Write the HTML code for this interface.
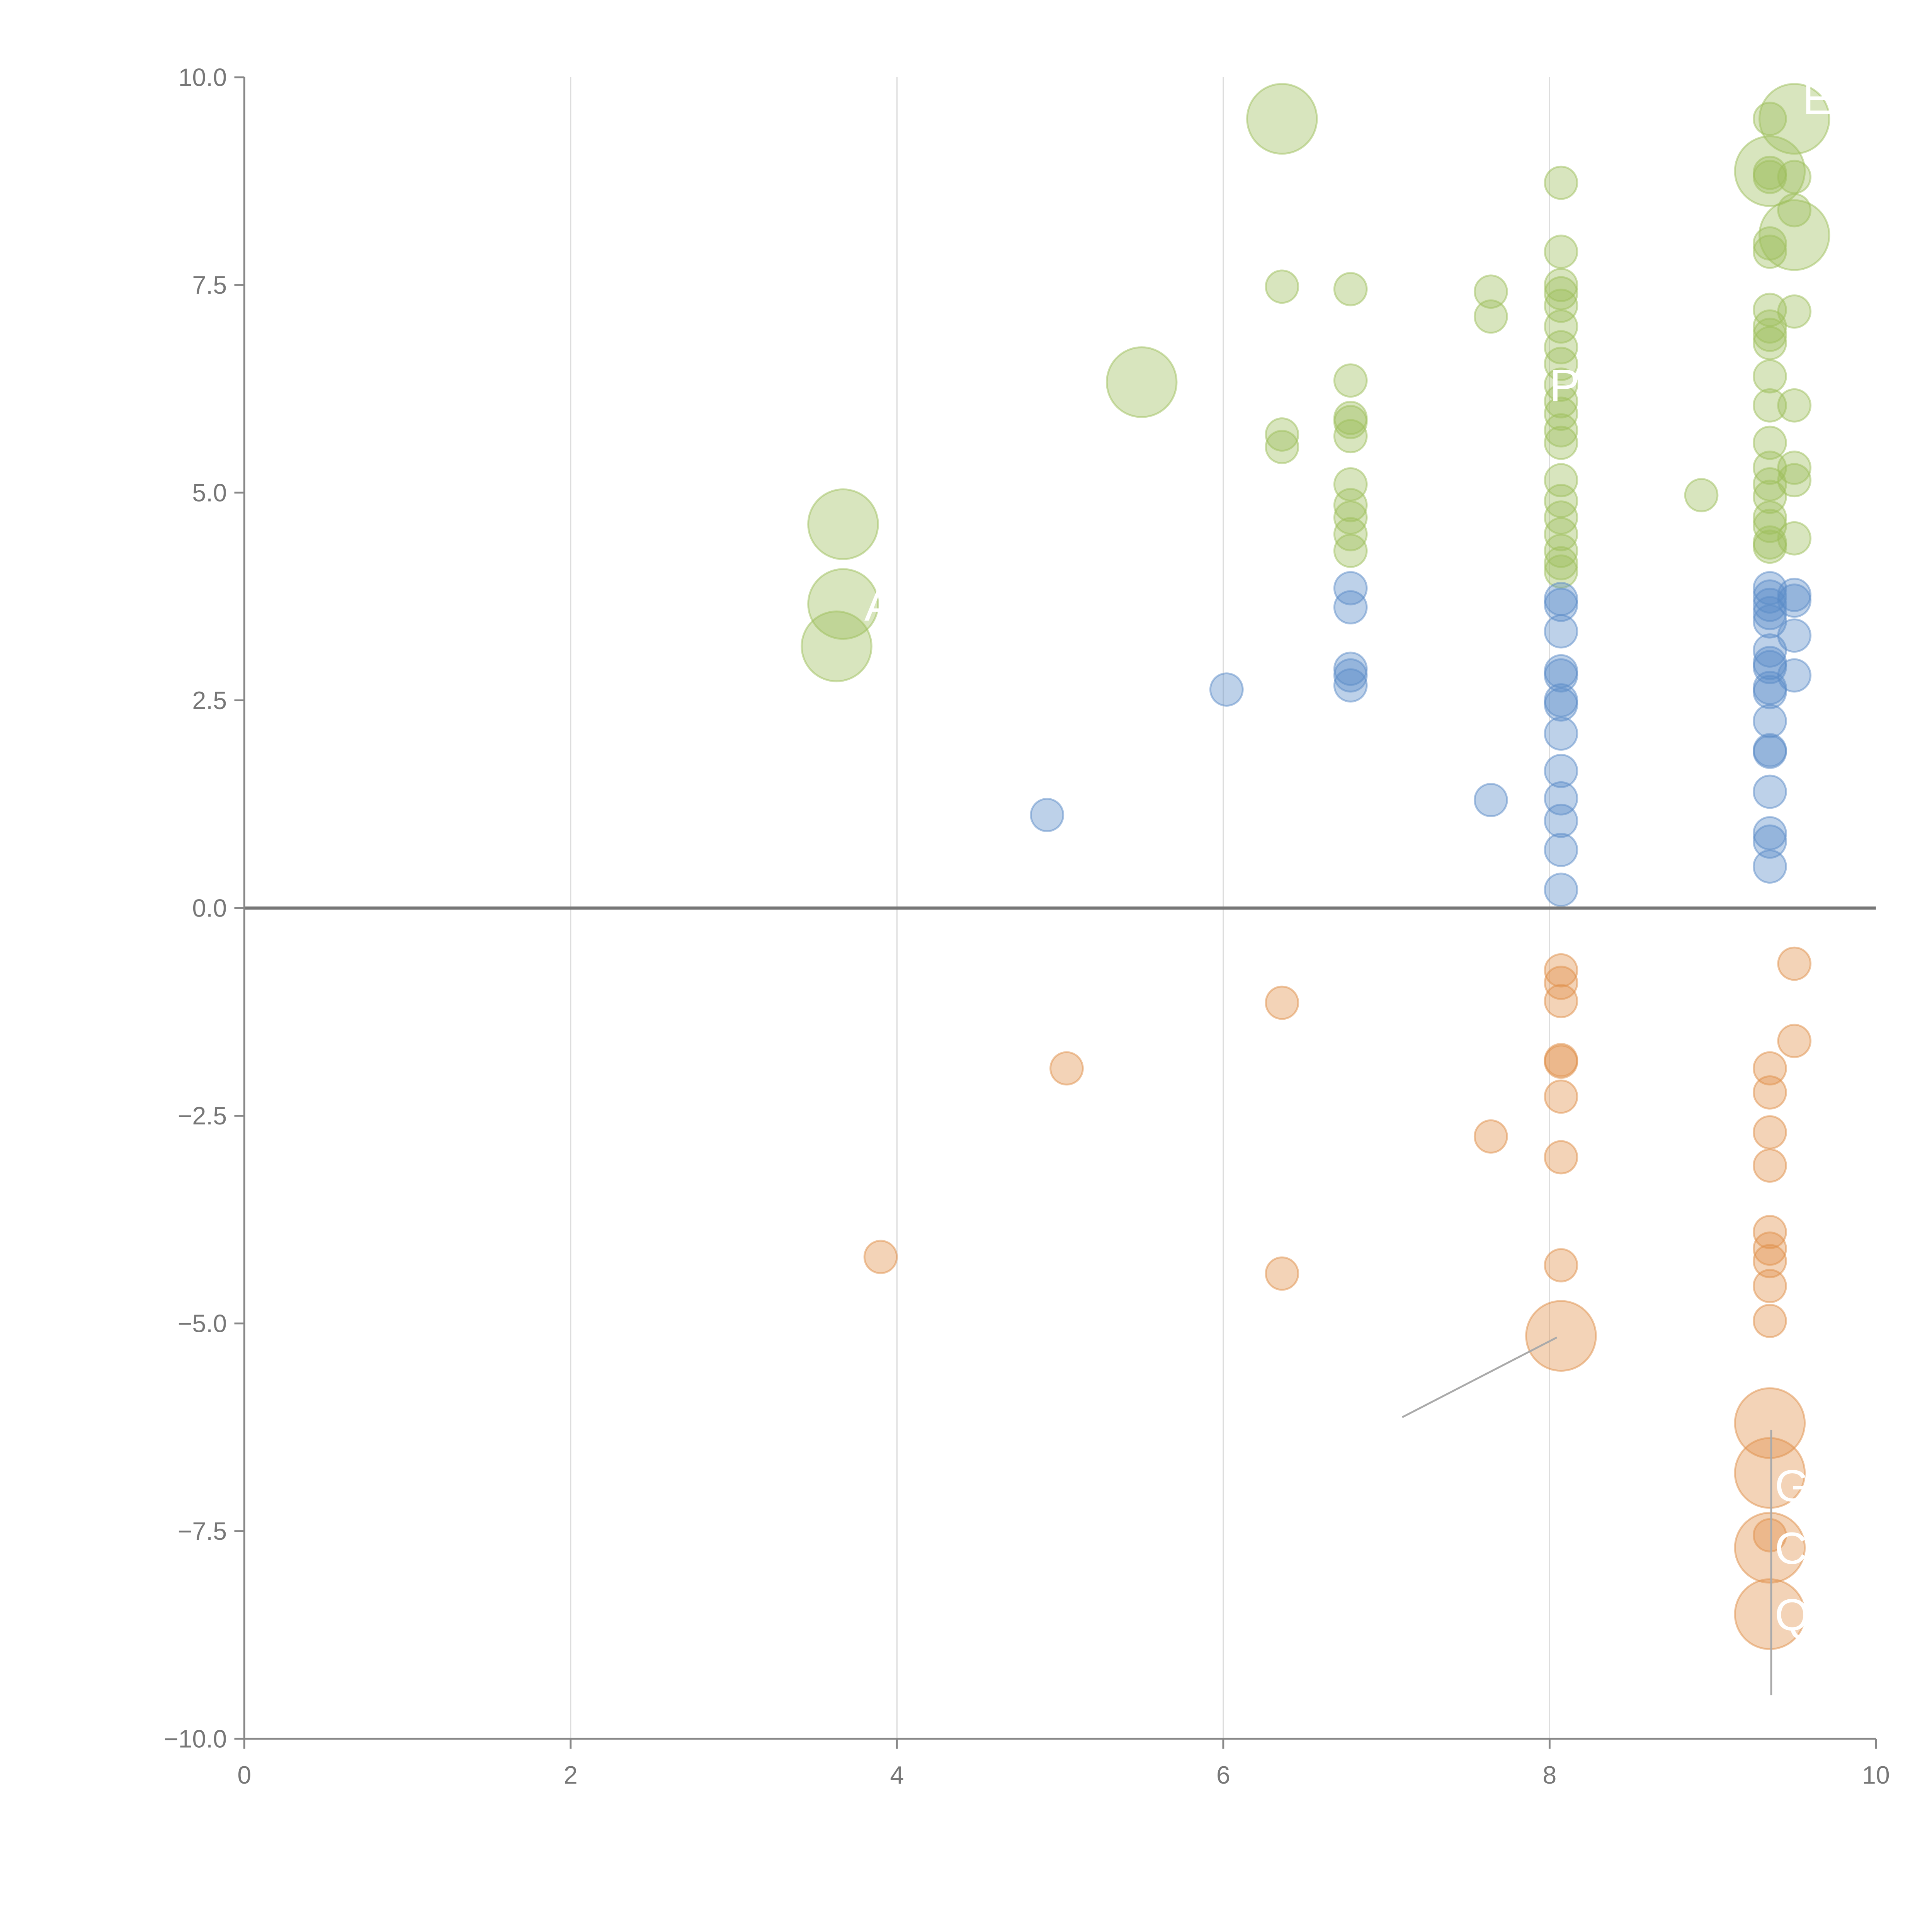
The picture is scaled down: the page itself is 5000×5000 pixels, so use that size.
<!DOCTYPE html>
<html><head><meta charset="utf-8"><style>html,body{margin:0;padding:0;background:#fff}svg{display:block}</style></head>
<body>
<svg id="chart" width="5000" height="5000" viewBox="0 0 1550 1550" xmlns="http://www.w3.org/2000/svg" font-family="Liberation Sans, Arial, sans-serif">
<g id="grid"></g>
<g id="marks"></g>
<g id="axes"></g>
</svg>
<script>
const xTicks=[0,2,4,6,8,10];
const yTicks=[10,7.5,5,2.5,0,-2.5,-5,-7.5,-10];
const yTickLabels=["10.0","7.5","5.0","2.5","0.0","\u22122.5","\u22125.0","\u22127.5","\u221210.0"];
const greenX=[6.36,6.36,6.36,6.78,6.78,6.78,6.78,6.78,6.78,6.78,6.78,6.78,6.78,7.64,7.64,8.07,8.07,8.07,8.07,8.07,8.07,8.07,8.07,8.07,8.07,8.07,8.07,8.07,8.07,8.07,8.07,8.07,8.07,8.07,8.07,8.93,9.35,9.35,9.35,9.35,9.35,9.35,9.35,9.35,9.35,9.35,9.35,9.35,9.35,9.35,9.35,9.35,9.35,9.35,9.35,9.5,9.5,9.5,9.5,9.5,9.5,9.5];
const greenY=[7.48,5.7,5.55,7.45,6.35,5.9,5.85,5.68,5.1,4.85,4.7,4.5,4.3,7.42,7.12,8.73,7.9,7.5,7.4,7.25,7.0,6.75,6.55,6.3,6.1,5.95,5.75,5.6,5.15,4.9,4.7,4.5,4.3,4.15,4.05,4.97,9.5,8.85,8.8,8.0,7.9,7.2,7.0,6.9,6.8,6.4,6.05,5.6,5.3,5.1,4.95,4.7,4.6,4.4,4.35,8.8,8.4,7.18,6.05,5.3,5.15,4.45];
const greenBigX=[3.67,3.67,3.63,5.5,6.36,9.35,9.5,9.5];
const greenBigY=[4.62,3.66,3.15,6.33,9.5,8.87,8.1,9.5];
const blueX=[4.92,6.02,6.78,6.78,6.78,6.78,6.78,7.64,8.07,8.07,8.07,8.07,8.07,8.07,8.07,8.07,8.07,8.07,8.07,8.07,8.07,9.35,9.35,9.35,9.35,9.35,9.35,9.35,9.35,9.35,9.35,9.35,9.35,9.35,9.35,9.35,9.35,9.35,9.5,9.5,9.5,9.5];
const blueY=[1.12,2.63,3.85,3.62,2.88,2.8,2.68,1.3,3.72,3.65,3.33,2.85,2.8,2.5,2.45,2.1,1.65,1.32,1.05,0.7,0.22,3.85,3.75,3.65,3.55,3.45,3.1,2.95,2.9,2.65,2.6,2.25,1.9,1.88,1.4,0.9,0.8,0.5,3.77,3.7,3.28,2.8];
const orangeX=[3.9,5.04,6.36,6.36,7.64,8.07,8.07,8.07,8.07,8.07,8.07,8.07,8.07,9.35,9.35,9.35,9.35,9.35,9.35,9.35,9.35,9.35,9.35,9.5,9.5];
const orangeY=[-4.2,-1.93,-1.14,-4.4,-2.75,-0.75,-0.9,-1.12,-1.83,-1.85,-2.27,-3.0,-4.3,-1.93,-2.22,-2.7,-3.1,-3.9,-4.1,-4.25,-4.55,-4.97,-7.55,-0.67,-1.6];
const orangeBigX=[8.07,9.35,9.35,9.35,9.35];
const orangeBigY=[-5.15,-6.2,-6.8,-7.7,-8.5];
const labelText=["G","C","Q","P","A","E"];
const labelX=[9.38,9.38,9.38,8.0,3.8,9.55];
const labelY=[-7.0,-7.75,-8.55,6.25,3.6,9.7];

const NS="http://www.w3.org/2000/svg";
const X0=196,X1=1505,Y0=1395,Y1=62;
const sx=v=>X0+(v-0)/(10-0)*(X1-X0);
const sy=v=>Y0-(v+10)/20*(Y0-Y1);
function mk(tag,attrs,parent){const e=document.createElementNS(NS,tag);for(const k in attrs)e.setAttribute(k,attrs[k]);parent.appendChild(e);return e;}
const grid=document.getElementById('grid'),marks=document.getElementById('marks'),axes=document.getElementById('axes');
xTicks.forEach(t=>{if(t>0&&t<10){const l=mk('line',{x1:sx(t),x2:sx(t),y1:Y1,y2:Y0,stroke:'#dddddd','stroke-width':1},grid);

}});
function drawSeries(xs,ys,r,color,name){xs.forEach((x,i)=>{const c=mk('circle',{cx:sx(x),cy:sy(ys[i]),r:r,fill:color,'fill-opacity':0.4,stroke:color,'stroke-opacity':0.5,'stroke-width':1.5},marks);

});}
drawSeries(greenX,greenY,13,'#9dbf5c','green-bubble');
drawSeries(greenBigX,greenBigY,28,'#9dbf5c','green-big-bubble');
drawSeries(blueX,blueY,13,'#5b8cc8','blue-bubble');
drawSeries(orangeX,orangeY,13,'#e0904a','orange-bubble');
drawSeries(orangeBigX,orangeBigY,28,'#e0904a','orange-big-bubble');
// leader lines
let ll=mk('line',{x1:1125,y1:1137,x2:1249,y2:1073,stroke:'#aaaaaa','stroke-width':1.5},marks);


ll=mk('line',{x1:1421,y1:1147,x2:1421,y2:1360,stroke:'#aaaaaa','stroke-width':1.5},marks);


labelText.forEach((s,i)=>{const t=mk('text',{x:sx(labelX[i]),y:sy(labelY[i]),fill:'#ffffff','font-size':36,'dominant-baseline':'middle'},marks);t.textContent=s;

});
// zero line
let z=mk('line',{x1:X0,x2:X1,y1:sy(0),y2:sy(0),stroke:'#777','stroke-width':2.5},axes);


let a=mk('line',{x1:X0,x2:X0,y1:Y1,y2:Y0,stroke:'#888','stroke-width':1.5},axes);


a=mk('line',{x1:X0,x2:X1,y1:Y0,y2:Y0,stroke:'#888','stroke-width':1.5},axes);


yTicks.forEach((t,i)=>{mk('line',{x1:X0-8,x2:X0,y1:sy(t),y2:sy(t),stroke:'#888','stroke-width':1.5},axes);
const tx=mk('text',{x:X0-14,y:sy(t)+7,'text-anchor':'end',fill:'#777','font-size':20},axes);tx.textContent=yTickLabels[i];

});
xTicks.forEach(t=>{mk('line',{x1:sx(t),x2:sx(t),y1:Y0,y2:Y0+8,stroke:'#888','stroke-width':1.5},axes);
const tx=mk('text',{x:sx(t),y:Y0+36,'text-anchor':'middle',fill:'#777','font-size':20},axes);tx.textContent=String(t);

});
</script>
</body></html>
